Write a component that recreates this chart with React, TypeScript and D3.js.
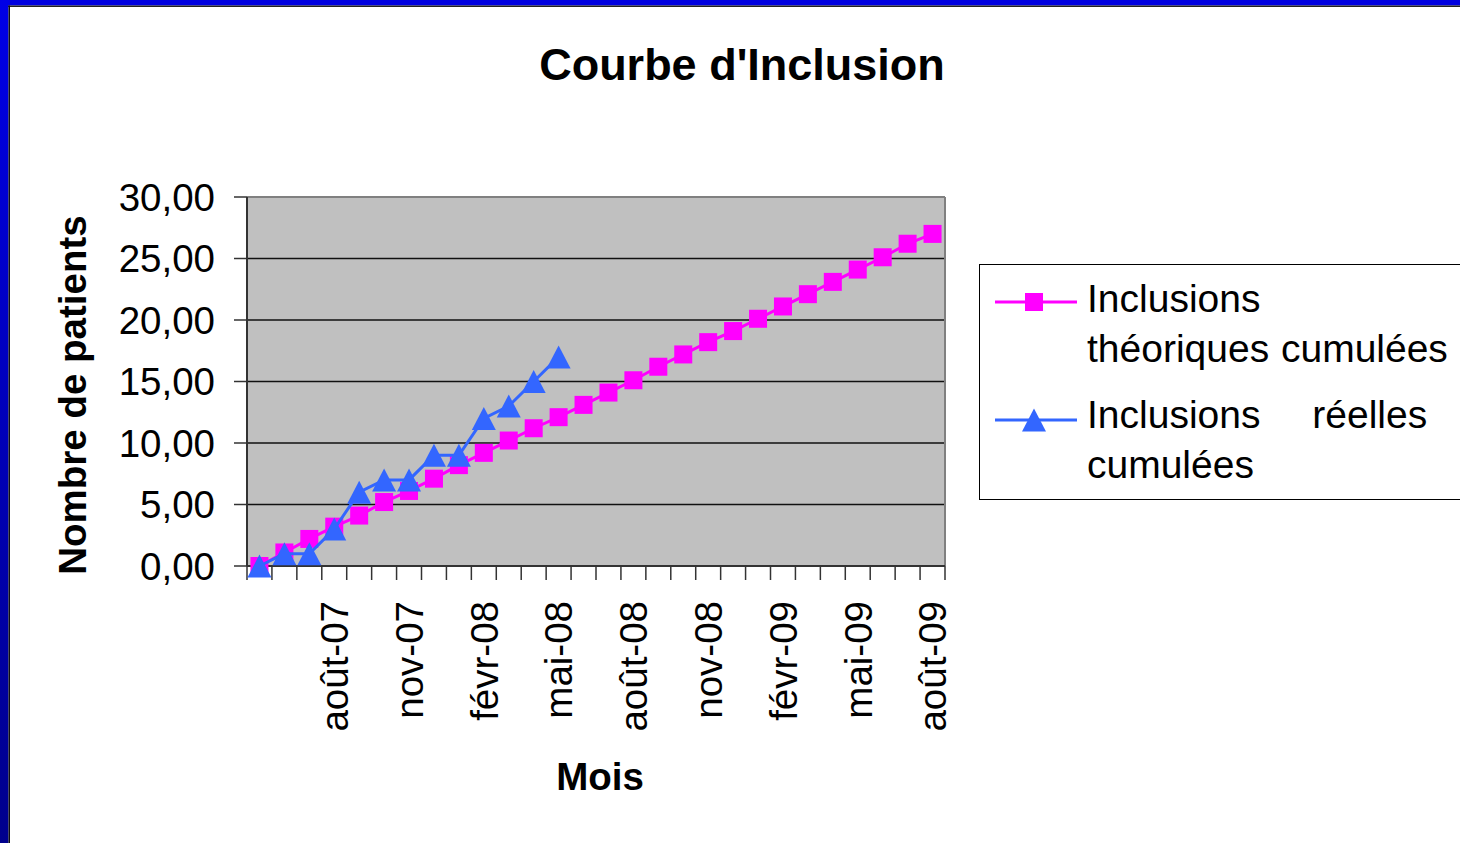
import React from "react";
import * as d3 from "d3";

const months = [
  "mai-07", "juin-07", "juil-07", "août-07", "sept-07", "oct-07", "nov-07",
  "déc-07", "janv-08", "févr-08", "mars-08", "avr-08", "mai-08", "juin-08",
  "juil-08", "août-08", "sept-08", "oct-08", "nov-08", "déc-08", "janv-09",
  "févr-09", "mars-09", "avr-09", "mai-09", "juin-09", "juil-09", "août-09",
];
const tickLabels = [
  "août-07", "nov-07", "févr-08", "mai-08", "août-08", "nov-08", "févr-09", "mai-09", "août-09",
];
const theoretical = [
  0, 1.1, 2.2, 3.2, 4.1, 5.2, 6.1, 7.1, 8.2, 9.2, 10.2, 11.2, 12.1, 13.1,
  14.1, 15.1, 16.2, 17.2, 18.2, 19.1, 20.1, 21.1, 22.1, 23.1, 24.1, 25.1, 26.2, 27.0,
];
const real = [0, 1, 1, 3, 6, 7, 7, 9, 9, 12, 13, 15, 17];
const yTicks = [0, 5, 10, 15, 20, 25, 30];
const seriesNames = ["Inclusions théoriques cumulées", "Inclusions réelles cumulées"];

const FONT = "'Liberation Sans', Arial, Helvetica, sans-serif";
const PINK = "#FF00FF";
const BLUE = "#3366FF";

const frLocale = d3.formatLocale({ decimal: ",", thousands: " ", grouping: [3], currency: ["", " €"] });
const fmt = frLocale.format(".2f");

export default function App() {
  const W = 1460, H = 843;
  const plot = { left: 247, right: 945, top: 197, bottom: 566 };
  const x = d3.scaleBand<string>().domain(months).range([plot.left, plot.right]);
  const y = d3.scaleLinear().domain([0, 30]).range([plot.bottom, plot.top]);
  const cx = (i: number) => (x(months[i]) as number) + x.bandwidth() / 2;
  const line = d3.line<number>().x((_, i) => cx(i)).y((d) => y(d));

  const tri = (px: number, py: number) =>
    `M${px},${py - 11.5}L${px + 12},${py + 11.5}L${px - 12},${py + 11.5}Z`;

  const boundaries = d3.range(months.length + 1).map((i) => plot.left + i * x.step());

  return (
    <svg width={W} height={H} style={{ position: "fixed", left: 0, top: 0, background: "#fff" }} fontFamily={FONT}>
      <defs>
        <linearGradient id="frameGrad" x1="0" y1="0" x2="0" y2="1">
          <stop offset="0" stopColor="#0000E6" />
          <stop offset="1" stopColor="#00008C" />
        </linearGradient>
      </defs>
      <rect x={0} y={0} width={W} height={H} fill="#fff" />
      {/* frame */}
      <rect x={0} y={0} width={W} height={5.5} fill="#0000E0" />
      <rect x={0} y={5.5} width={W} height={1.5} fill="#222" />
      <rect x={0} y={0} width={8.5} height={H} fill="url(#frameGrad)" />
      <rect x={8.5} y={5.5} width={1.5} height={H} fill="#111" />

      {/* title */}
      <text x={742} y={80} textAnchor="middle" fontSize={45} fontWeight="bold" fill="#000">
        Courbe d'Inclusion
      </text>

      {/* plot area */}
      <rect x={plot.left} y={plot.top} width={plot.right - plot.left} height={plot.bottom - plot.top} fill="#C0C0C0" />
      {yTicks.slice(1, -1).map((t) => (
        <line key={t} x1={plot.left} x2={plot.right} y1={y(t)} y2={y(t)} stroke="#111" strokeWidth={1.4} />
      ))}
      <line x1={plot.left} x2={plot.right} y1={plot.top} y2={plot.top} stroke="#808080" strokeWidth={2} />
      <line x1={plot.right} x2={plot.right} y1={plot.top} y2={plot.bottom} stroke="#808080" strokeWidth={2} />

      {/* y axis */}
      <line x1={plot.left} x2={plot.left} y1={plot.top} y2={plot.bottom} stroke="#333" strokeWidth={2} />
      {yTicks.map((t) => (
        <g key={t}>
          <line x1={plot.left - 13} x2={plot.left} y1={y(t)} y2={y(t)} stroke="#333" strokeWidth={1.5} />
          <text x={215} y={y(t)} dy="0.36em" textAnchor="end" fontSize={38.5} fill="#000">
            {fmt(t)}
          </text>
        </g>
      ))}

      {/* x axis */}
      <line x1={plot.left} x2={plot.right} y1={plot.bottom} y2={plot.bottom} stroke="#333" strokeWidth={2} />
      {boundaries.map((bx, i) => (
        <line key={i} x1={bx} x2={bx} y1={plot.bottom} y2={plot.bottom + 14} stroke="#333" strokeWidth={1.5} />
      ))}
      {tickLabels.map((lab) => {
        const px = (x(lab) as number) + x.bandwidth() / 2;
        return (
          <text key={lab} transform={`translate(${px},601) rotate(-90)`} dy="0.36em" textAnchor="end" fontSize={38.5} fill="#000">
            {lab}
          </text>
        );
      })}

      {/* axis titles */}
      <text x={600} y={790} textAnchor="middle" fontSize={38.5} fontWeight="bold" fill="#000">Mois</text>
      <text transform="translate(72,395) rotate(-90)" dy="0.36em" textAnchor="middle" fontSize={38.5} fontWeight="bold" fill="#000">
        Nombre de patients
      </text>

      {/* series */}
      <path d={line(theoretical) as string} fill="none" stroke={PINK} strokeWidth={3} />
      {theoretical.map((v, i) => (
        <rect key={i} x={cx(i) - 9} y={y(v) - 9} width={18} height={18} fill={PINK} />
      ))}
      <path d={line(real) as string} fill="none" stroke={BLUE} strokeWidth={3} />
      {real.map((v, i) => (
        <path key={i} d={tri(cx(i), y(v))} fill={BLUE} />
      ))}

      {/* legend */}
      <rect x={979.5} y={264.5} width={490} height={235} fill="#fff" stroke="#000" strokeWidth={1} />
      <line x1={995} x2={1077} y1={302} y2={302} stroke={PINK} strokeWidth={3} />
      <rect x={1025} y={293} width={18} height={18} fill={PINK} />
      <text x={1087} fontSize={39} fill="#000">
        <tspan x={1087} y={312}>{seriesNames[0].split(" ")[0]}</tspan>
        <tspan x={1087} y={362} wordSpacing={1}>{seriesNames[0].split(" ").slice(1).join(" ")}</tspan>
      </text>
      <line x1={995} x2={1077} y1={420} y2={420} stroke={BLUE} strokeWidth={3} />
      <path d={tri(1034, 420)} fill={BLUE} />
      <text x={1087} fontSize={39} fill="#000">
        <tspan x={1087} y={428} wordSpacing={41}>{seriesNames[1].split(" ").slice(0, 2).join(" ")}</tspan>
        <tspan x={1087} y={478}>{seriesNames[1].split(" ")[2]}</tspan>
      </text>
    </svg>
  );
}
